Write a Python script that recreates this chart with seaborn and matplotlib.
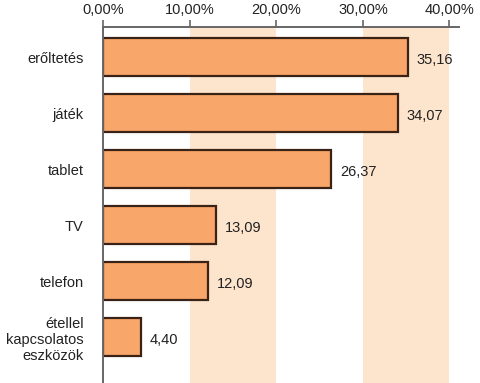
import pandas as pd
import matplotlib
matplotlib.use("Agg")
import matplotlib.pyplot as plt
import seaborn as sns

# data (percent)
categories = ["erőltetés", "játék", "tablet", "TV", "telefon",
              "étellel\nkapcsolatos\neszközök"]
values = [35.16, 34.07, 26.37, 13.09, 12.09, 4.40]
tick_values = [0, 10, 20, 30, 40]
tick_labels = ["0,00%", "10,00%", "20,00%", "30,00%", "40,00%"]

df = pd.DataFrame({"kategoria": categories, "ertek": values})

sns.set_style("white")
plt.rcParams["font.family"] = ["Liberation Sans", "DejaVu Sans"]

fig = plt.figure(figsize=(4.8, 3.83), dpi=100)
ax = fig.add_axes([103 / 480, 0, 356 / 480, 356 / 383])

# alternating light bands
for lo, hi in [(10, 20), (30, 40)]:
    ax.axvspan(lo, hi, color="#fde4cd", lw=0, zorder=0)

sns.barplot(data=df, x="ertek", y="kategoria", orient="h", ax=ax,
            color="#f8a66a", saturation=1, width=0.68,
            edgecolor="#3a2314", linewidth=1.6, zorder=2)

# value labels right of bars
for i, v in enumerate(values):
    ax.text(v + 1.0, i + 0.05, f"{v:.2f}".replace(".", ","), va="center",
            ha="left", fontsize=10.5, color="#222222")

ax.set_xlim(0, 41.1)
ax.set_ylim(5.82, -0.54)
ax.xaxis.tick_top()
ax.set_xticks(tick_values)
ax.set_xticklabels(tick_labels, fontsize=10.5, color="#222222")
ax.tick_params(axis="x", top=True, bottom=False, length=5, width=1.2,
               color="#666666", pad=2)
ax.tick_params(axis="y", length=0, labelsize=10.5, labelcolor="#222222", pad=14)
ax.set_xlabel("")
ax.set_ylabel("")

for s in ["right", "bottom"]:
    ax.spines[s].set_visible(False)
for s in ["top", "left"]:
    ax.spines[s].set_color("#666666")
    ax.spines[s].set_linewidth(1.4)

for lab in ax.get_yticklabels():
    lab.set_multialignment("right")

fig.savefig("out.png", dpi=100)
